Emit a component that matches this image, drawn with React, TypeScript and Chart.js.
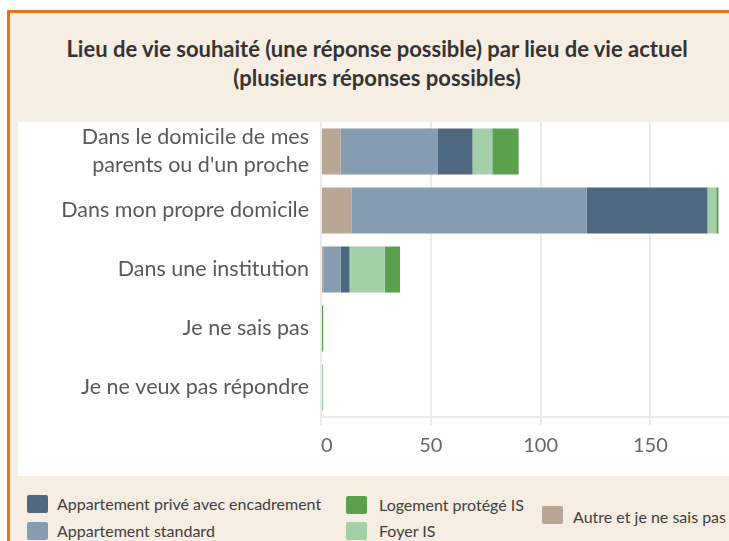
import React, { useEffect, useRef } from "react";
import { Chart, registerables } from "chart.js";

Chart.register(...registerables);

const titleLines = [
  "Lieu de vie souhaité (une réponse possible) par lieu de vie actuel",
  "(plusieurs réponses possibles)",
];

const categories: (string | string[])[] = [
  ["Dans le domicile de mes", "parents ou d'un proche"],
  "Dans mon propre domicile",
  "Dans une institution",
  "Je ne sais pas",
  "Je ne veux pas répondre",
];

const seriesNames = [
  "Autre et je ne sais pas",
  "Appartement standard",
  "Appartement privé avec encadrement",
  "Foyer IS",
  "Logement protégé IS",
];

const autre = [9, 14, 1, 0, 0];
const standard = [44, 107, 8, 0, 0];
const prive = [16, 55, 4, 0, 0];
const foyer = [9, 4, 16, 0, 1];
const logement = [12, 1, 7, 1, 0];

// tick values; the last one (200) lies beyond the visible crop and its label is hidden
const xTicks = [0, 50, 100, 150, 200];
const xTickLabels = ["0", "50", "100", "150", ""];

const COLORS = {
  autre: "#b8a794",
  standard: "#869cb1",
  prive: "#4e6880",
  foyer: "#a3cfa9",
  logement: "#5aa14e",
};

const BEIGE = "#f6ede3";
const ORANGE = "#e8761f";
const FONT = "Lato, 'Open Sans', sans-serif";

export default function App() {
  const ref = useRef<HTMLCanvasElement>(null);

  useEffect(() => {
    if (!ref.current) return;
    const chart = new Chart(ref.current, {
      type: "bar",
      data: {
        labels: categories,
        datasets: [
          { label: seriesNames[0], data: autre, backgroundColor: COLORS.autre },
          { label: seriesNames[1], data: standard, backgroundColor: COLORS.standard },
          { label: seriesNames[2], data: prive, backgroundColor: COLORS.prive },
          { label: seriesNames[3], data: foyer, backgroundColor: COLORS.foyer },
          { label: seriesNames[4], data: logement, backgroundColor: COLORS.logement },
        ],
      },
      options: {
        indexAxis: "y",
        responsive: false,
        animation: false,
        datasets: {
          bar: { categoryPercentage: 1, barPercentage: 0.78, borderWidth: 0 },
        },
        layout: { padding: { left: 0, right: 37.8, top: 0, bottom: 9 } },
        plugins: {
          legend: { display: false },
          tooltip: { enabled: false },
          title: { display: false },
        },
        scales: {
          x: {
            stacked: true,
            min: xTicks[0],
            max: xTicks[xTicks.length - 1],
            afterBuildTicks: (scale: any) => {
              scale.ticks = xTicks.map((v) => ({ value: v }));
            },
            grid: {
              color: "#ebebeb",
              lineWidth: 2,
              tickLength: 8,
              drawTicks: true,
            },
            border: { display: true, color: "#ebebeb", width: 2 },
            ticks: {
              padding: 9,
              align: "inner",
              color: "#666666",
              font: { family: FONT, size: 20 },
              callback: (_v: any, i: number) => xTickLabels[i],
            },
          },
          y: {
            stacked: true,
            grid: { display: false, drawTicks: false },
            border: { display: false },
            afterFit: (scale: any) => {
              scale.width = 303;
              scale.paddingTop = 0;
              scale.paddingBottom = 0;
            },
            ticks: {
              autoSkip: false,
              padding: 12,
              color: "#595959",
              font: { family: FONT, size: 21.5, lineHeight: 1.3 },
            },
          },
        },
      },
    } as any);
    return () => chart.destroy();
  }, []);

  const legendItems = [
    { name: seriesNames[2], color: COLORS.prive, box: [27, 495], text: [57, 504] },
    { name: seriesNames[1], color: COLORS.standard, box: [27, 522], text: [57, 531] },
    { name: seriesNames[4], color: COLORS.logement, box: [346, 496], text: [379, 505] },
    { name: seriesNames[3], color: COLORS.foyer, box: [346, 522], text: [379, 531] },
    { name: seriesNames[0], color: COLORS.autre, box: [542, 506], text: [573, 517] },
  ];

  return (
    <div
      style={{
        position: "fixed",
        left: 0,
        top: 0,
        width: 729,
        height: 541,
        overflow: "hidden",
        background: "#ffffff",
      }}
    >
      <div
        style={{
          position: "absolute",
          left: 7,
          top: 10,
          width: 900,
          height: 700,
          background: BEIGE,
          borderLeft: `3px solid ${ORANGE}`,
          borderTop: `3px solid ${ORANGE}`,
          boxSizing: "border-box",
        }}
      />
      <div
        style={{
          position: "absolute",
          left: 0,
          top: 34,
          width: 754,
          textAlign: "center",
          fontFamily: FONT,
          fontWeight: 700,
          fontSize: 22,
          lineHeight: "29px",
          color: "#333333",
        }}
      >
        {titleLines.map((t, i) => (
          <div key={i} style={{ whiteSpace: "nowrap" }}>{t}</div>
        ))}
      </div>
      <div
        style={{
          position: "absolute",
          left: 18,
          top: 122,
          width: 800,
          height: 354,
          background: "#ffffff",
        }}
      >
        <canvas ref={ref} width={780} height={354} style={{ display: "block" }} />
      </div>
      {legendItems.map((it, i) => (
        <React.Fragment key={i}>
          <div
            style={{
              position: "absolute",
              left: it.box[0],
              top: it.box[1],
              width: 21,
              height: 18,
              background: it.color,
              borderRadius: 2,
            }}
          />
          <div
            style={{
              position: "absolute",
              left: it.text[0],
              top: it.text[1] - 10,
              height: 20,
              lineHeight: "20px",
              whiteSpace: "nowrap",
              fontFamily: FONT,
              fontSize: 16,
              color: "#404040",
            }}
          >
            {it.name}
          </div>
        </React.Fragment>
      ))}
    </div>
  );
}
